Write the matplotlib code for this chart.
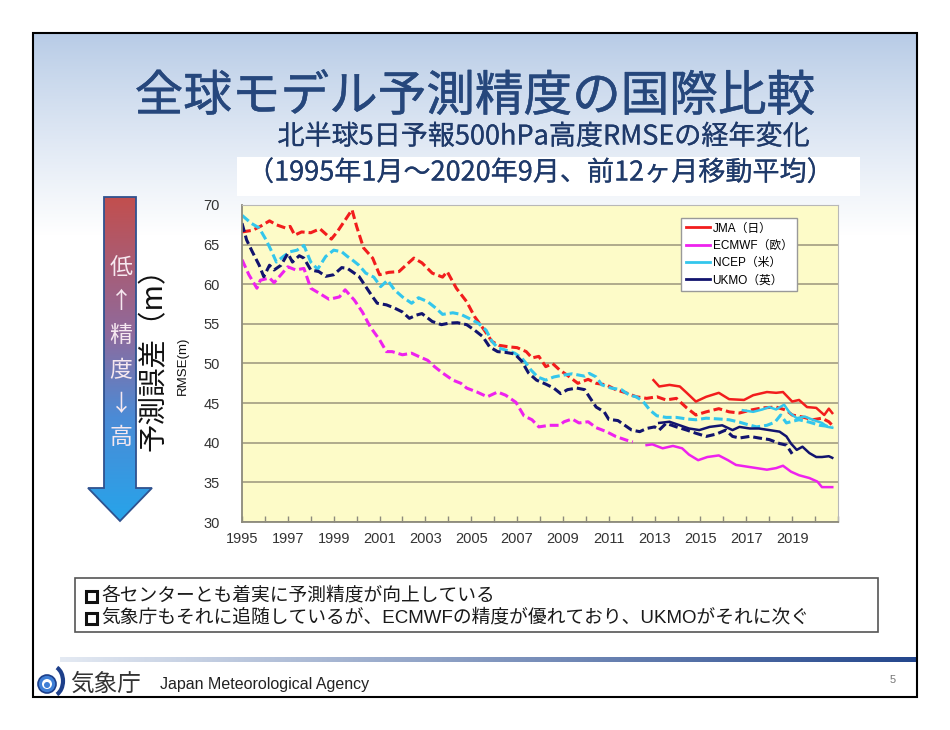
import numpy as np
import matplotlib
matplotlib.use('Agg')
import matplotlib.pyplot as plt
import matplotlib.patheffects as pe
from matplotlib.patches import Rectangle, Polygon, Circle, Arc
from matplotlib.lines import Line2D
from matplotlib.colors import LinearSegmentedColormap, to_rgb

plt.rcParams['font.family'] = ['Noto Sans CJK JP', 'DejaVu Sans']

# ---------------- data ----------------
jma_old_years = [1995.0, 1995.45, 1995.8, 1996.2, 1996.5, 1996.9, 1997.1, 1997.3, 1997.6, 1998.0,
                 1998.4, 1998.9, 1999.15, 1999.5, 1999.8, 2000.0, 2000.3, 2000.7, 2001.0, 2001.4,
                 2001.85, 2002.15, 2002.5, 2002.85, 2003.3, 2003.75, 2003.95, 2004.35, 2004.8, 2005.15,
                 2005.5, 2005.9, 2006.2, 2006.65, 2007.0, 2007.4, 2007.65, 2007.95, 2008.25, 2008.55,
                 2008.85, 2009.2, 2009.65, 2010.1, 2010.45, 2010.9, 2011.3, 2011.75, 2012.2, 2012.65,
                 2013.1, 2013.5, 2013.95, 2014.4, 2014.8, 2015.25, 2015.8, 2016.25, 2016.7, 2017.15,
                 2017.7, 2018.3, 2018.75, 2019.0, 2019.45, 2019.9, 2020.3, 2020.6, 2020.75]
jma_old_vals = [66.6, 66.8, 67.3, 68.0, 67.5, 67.1, 67.3, 66.2, 66.6, 66.5,
                67.0, 65.7, 66.6, 68.1, 69.4, 67.3, 64.6, 63.3, 61.2, 61.5,
                61.6, 62.4, 63.3, 62.7, 61.4, 60.9, 61.6, 59.5, 57.8, 55.9,
                54.5, 52.8, 52.3, 52.1, 52.0, 51.5, 50.7, 50.9, 49.6, 50.0,
                49.2, 48.5, 47.5, 48.0, 47.5, 47.3, 46.7, 46.3, 45.8, 45.6,
                45.8, 45.4, 45.6, 44.4, 43.5, 43.9, 44.3, 43.9, 43.75, 44.1,
                44.4, 44.5, 44.1, 43.5, 43.25, 42.9, 43.1, 42.65, 42.2]

jma_new_years = [2012.95, 2013.2, 2013.65, 2014.1, 2014.4, 2014.8, 2015.25, 2015.8, 2016.25, 2016.9,
                 2017.3, 2017.9, 2018.3, 2018.6, 2019.0, 2019.3, 2019.65, 2020.05, 2020.4, 2020.6, 2020.75]
jma_new_vals = [47.9, 47.1, 47.3, 47.1, 46.3, 45.2, 45.8, 46.3, 45.5, 45.4,
                46.0, 46.4, 46.3, 46.4, 45.2, 45.4, 44.5, 44.4, 43.5, 44.3, 43.75]

ecmwf_old_years = [1995.0, 1995.3, 1995.65, 1995.8, 1996.2, 1996.4, 1996.7, 1997.0, 1997.35, 1997.7,
                   1998.0, 1998.35, 1998.8, 1999.25, 1999.5, 1999.9, 2000.25, 2000.6, 2001.0, 2001.3,
                   2001.55, 2002.0, 2002.4, 2002.7, 2003.1, 2003.4, 2003.75, 2004.2, 2004.55, 2004.8,
                   2005.25, 2005.7, 2006.15, 2006.5, 2006.95, 2007.3, 2007.65, 2007.95, 2008.4, 2008.85,
                   2009.05, 2009.4, 2009.7, 2010.1, 2010.45, 2010.9, 2011.3, 2011.75, 2012.05]
ecmwf_old_vals = [63.1, 61.2, 59.5, 60.5, 60.8, 60.2, 61.2, 62.2, 61.8, 62.0,
                  59.5, 58.9, 58.1, 58.4, 59.3, 58.0, 56.5, 54.6, 53.0, 51.5,
                  51.5, 51.1, 51.3, 50.9, 50.4, 49.6, 48.8, 47.9, 47.5, 46.9,
                  46.4, 45.8, 46.4, 46.0, 45.1, 43.4, 42.9, 42.0, 42.2, 42.2,
                  42.65, 43.0, 42.5, 42.65, 41.9, 41.4, 40.8, 40.35, 40.1]

ecmwf_new_years = [2012.65, 2012.9, 2013.35, 2013.8, 2014.2, 2014.5, 2014.9, 2015.3, 2015.8, 2016.2,
                   2016.55, 2017.0, 2017.45, 2017.9, 2018.3, 2018.6, 2018.95, 2019.3, 2019.75, 2020.1,
                   2020.3, 2020.75]
ecmwf_new_vals = [39.7, 39.8, 39.3, 39.6, 39.3, 38.5, 37.8, 38.2, 38.4, 37.8,
                  37.2, 37.0, 36.8, 36.6, 36.8, 37.1, 36.35, 35.9, 35.55, 35.1,
                  34.4, 34.4]

ncep_old_years = [1995.0, 1995.4, 1995.75, 1996.05, 1996.3, 1996.5, 1996.8, 1997.1, 1997.4, 1997.7,
                  1998.0, 1998.3, 1998.65, 1999.0, 1999.35, 1999.6, 1999.8, 2000.1, 2000.4, 2000.75,
                  2001.05, 2001.35, 2001.65, 2002.0, 2002.4, 2002.7, 2003.1, 2003.45, 2003.75, 2004.2,
                  2004.55, 2004.9, 2005.3, 2005.65, 2005.9, 2006.15, 2006.5, 2006.9, 2007.2, 2007.4,
                  2007.6, 2007.9, 2008.25, 2008.6, 2008.95, 2009.4, 2009.95, 2010.15, 2010.45, 2010.7,
                  2011.1, 2011.55, 2011.9, 2012.2, 2012.5, 2012.8, 2013.1, 2013.5, 2013.95, 2014.4,
                  2014.8, 2015.25, 2015.8, 2016.25, 2016.7, 2017.05, 2017.45, 2017.9, 2018.25, 2018.5,
                  2018.75, 2019.0, 2019.3, 2019.75, 2020.2, 2020.75]
ncep_old_vals = [68.7, 67.7, 67.1, 65.6, 64.1, 62.8, 63.5, 64.1, 64.3, 64.9,
                 62.8, 61.9, 63.5, 64.3, 64.1, 63.5, 63.1, 62.4, 61.4, 60.9,
                 59.7, 60.5, 59.3, 58.4, 57.6, 58.3, 57.8, 57.0, 56.2, 56.4,
                 56.2, 55.7, 55.1, 54.2, 52.8, 52.0, 51.7, 51.3, 50.7, 50.0,
                 49.2, 48.3, 47.9, 48.3, 48.5, 48.7, 48.4, 48.75, 48.3, 47.3,
                 46.9, 46.7, 46.0, 45.8, 45.2, 44.1, 43.4, 43.2, 43.2, 43.0,
                 42.9, 43.1, 43.0, 42.9, 42.6, 42.3, 42.0, 42.2, 42.6, 43.5,
                 42.5, 42.7, 42.9, 42.6, 42.2, 42.0]

ncep_new_years = [2016.85, 2017.3, 2017.7, 2018.0, 2018.3, 2018.65, 2018.9, 2019.2, 2019.55, 2019.9,
                  2020.3, 2020.55, 2020.75]
ncep_new_vals = [44.1, 43.9, 44.2, 44.5, 44.2, 44.8, 43.75, 43.1, 43.3, 42.9,
                 42.5, 42.0, 41.9]

ukmo_old_years = [1995.0, 1995.2, 1995.45, 1995.75, 1995.95, 1996.2, 1996.4, 1996.7, 1997.0, 1997.2,
                  1997.5, 1997.7, 1998.0, 1998.35, 1998.65, 1999.0, 1999.35, 1999.6, 1999.8, 2000.1,
                  2000.4, 2000.7, 2000.9, 2001.3, 2001.65, 2002.0, 2002.3, 2002.6, 2002.85, 2003.3,
                  2003.7, 2004.05, 2004.4, 2004.8, 2005.15, 2005.5, 2005.8, 2006.15, 2006.5, 2006.9,
                  2007.2, 2007.5, 2007.85, 2008.25, 2008.6, 2008.9, 2009.2, 2009.6, 2009.95, 2010.15,
                  2010.45, 2010.8, 2011.0, 2011.4, 2011.7, 2012.0, 2012.35, 2012.65, 2013.0, 2013.2,
                  2013.5, 2013.95, 2014.4, 2014.8, 2015.25, 2015.7, 2016.1, 2016.4, 2016.7, 2017.15,
                  2017.55, 2018.0, 2018.45, 2018.75, 2019.0]
ukmo_old_vals = [67.7, 65.6, 64.1, 62.4, 60.95, 62.4, 61.8, 62.4, 63.9, 62.8,
                 63.6, 63.3, 61.8, 61.6, 61.0, 61.2, 62.1, 62.0, 61.6, 61.0,
                 59.7, 58.4, 57.6, 57.4, 57.0, 56.5, 55.7, 56.1, 56.3, 55.3,
                 54.9, 55.1, 55.15, 54.9, 54.2, 53.4, 52.1, 51.5, 51.4, 51.2,
                 50.3, 48.8, 47.9, 47.4, 46.9, 46.2, 46.7, 46.9, 46.7, 45.8,
                 44.5, 43.9, 42.95, 42.8, 42.2, 41.6, 41.4, 41.8, 42.0, 41.6,
                 42.45, 42.0, 41.6, 41.2, 40.8, 41.1, 41.6, 40.8, 40.6, 40.8,
                 40.6, 40.4, 39.9, 39.7, 38.6]

ukmo_new_years = [2013.2, 2013.65, 2014.1, 2014.5, 2014.95, 2015.4, 2015.95, 2016.4, 2016.7, 2017.15,
                  2017.55, 2018.0, 2018.45, 2018.75, 2018.95, 2019.2, 2019.45, 2019.75, 2020.05, 2020.3,
                  2020.6, 2020.75]
ukmo_new_vals = [42.5, 42.65, 42.2, 41.8, 41.6, 42.0, 42.2, 41.6, 42.0, 41.8,
                 41.8, 41.6, 41.4, 40.8, 39.9, 39.1, 39.5, 38.7, 38.2, 38.2,
                 38.3, 38.1]

series_labels = ['JMA（日）', 'ECMWF（欧）', 'NCEP（米）', 'UKMO（英）']
series_colors = ['#f21d1d', '#ee22ee', '#33c6ec', '#12146e']
x_tick_years = list(range(1995, 2021, 2))
y_ticks = [30, 35, 40, 45, 50, 55, 60, 65, 70]

LATIN_CJK = ['Liberation Sans', 'Noto Sans CJK JP', 'DejaVu Sans']

# ---------------- figure / background ----------------
W, H = 950, 730
fig = plt.figure(figsize=(9.5, 7.3), dpi=100)
fig.patch.set_facecolor('white')
bg = fig.add_axes([0, 0, 1, 1])
bg.axis('off')

ys = np.arange(33, 698)
t = np.clip((ys - 33) / (235 - 33), 0, 1)
t = t ** 0.9
top = np.array(to_rgb('#b7cbe6'))
grad = top[None, :] * (1 - t[:, None]) + np.ones(3)[None, :] * t[:, None]
bg.imshow(grad[:, None, :], extent=(33, 917, 697, 33), aspect='auto', zorder=0)
bg.add_patch(Rectangle((237, 157), 623, 39, facecolor='white', edgecolor='none', zorder=1))
bg.add_patch(Rectangle((33, 33), 884, 664, fill=False, edgecolor='black', lw=1.5, zorder=5))
bg.set_xlim(0, W)
bg.set_ylim(H, 0)

title_color = '#26477c'
sub_color = '#1f3a6a'
bg.text(475, 97, '全球モデル予測精度の国際比較', fontsize=35, color=title_color,
        ha='center', va='center', zorder=3,
        path_effects=[pe.withStroke(linewidth=0.35, foreground=title_color)])
bg.text(544, 137, '北半球5日予報500hPa高度RMSEの経年変化', fontsize=19.5, color=sub_color,
        ha='center', va='center', zorder=3,
        path_effects=[pe.withStroke(linewidth=0.15, foreground=sub_color)])
bg.text(541, 173, '（1995年1月～2020年9月、前12ヶ月移動平均）', fontsize=19.5, color=sub_color,
        ha='center', va='center', zorder=3,
        path_effects=[pe.withStroke(linewidth=0.15, foreground=sub_color)])

# gradient arrow
arrow_pts = [(104, 197), (136, 197), (136, 488), (152, 488), (120, 521), (88, 488), (104, 488)]
arrow = Polygon(arrow_pts, closed=True, facecolor='none', edgecolor='#2f528f', lw=1.3, zorder=4)
bg.add_patch(arrow)
acmap = LinearSegmentedColormap.from_list('arr', [(0, '#c24f4e'), (0.42, '#8f6a9c'),
                                                  (0.68, '#4b8bd6'), (1, '#27a4ea')])
ag = np.linspace(0, 1, 256)[:, None]
im = bg.imshow(ag, cmap=acmap, extent=(88, 152, 521, 197), aspect='auto', zorder=3)
clip = Polygon(arrow_pts, closed=True, transform=bg.transData)
im.set_clip_path(clip)
bg.set_xlim(0, W)
bg.set_ylim(H, 0)
for ch, yy in zip(['低', '↑', '精', '度', '↓', '高'], [268, 301, 335, 371, 405, 438]):
    bg.text(121, yy, ch, fontsize=16.5, color='#f6e8f0', ha='center', va='center', zorder=5)

bg.text(154, 352, '予測誤差（m）', fontsize=20.5, rotation=90, ha='center', va='center',
        color='#111111', zorder=5)
bg.text(183, 366, 'RMSE(m)', fontsize=9.5, rotation=90, ha='center', va='center',
        family=['Liberation Sans', 'DejaVu Sans'], color='#111111', zorder=5)

# bottom message box
bg.add_patch(Rectangle((75, 578), 803, 54, facecolor='white', edgecolor='#555555', lw=1.2, zorder=2))
msg1 = '各センターとも着実に予測精度が向上している'
msg2 = '気象庁もそれに追随しているが、ECMWFの精度が優れており、UKMOがそれに次ぐ'
for yy, msg in zip([596, 618], [msg1, msg2]):
    bg.add_patch(Rectangle((86, yy - 5.5), 11, 11, facecolor='none', edgecolor='#111111',
                           lw=2.2, zorder=3))
    bg.text(101, yy, msg, fontsize=13.5, ha='left', va='center', color='#1a1a1a',
            family=LATIN_CJK, zorder=3)

# footer line
fx = np.linspace(0, 1, 400)
fcol = np.array(to_rgb('#e4eaf3'))[None, :] * (1 - fx[:, None]) + np.array(to_rgb('#23468c'))[None, :] * fx[:, None]
bg.imshow(fcol[None, :, :], extent=(60, 917, 662, 657), aspect='auto', zorder=2)
bg.set_xlim(0, W)
bg.set_ylim(H, 0)

# logo
bg.add_patch(Circle((47, 684), 9, facecolor='#3f7fd6', edgecolor='#1d3f8a', lw=1.2, zorder=3))
bg.add_patch(Circle((47, 684), 5, facecolor='white', edgecolor='none', zorder=4))
bg.add_patch(Circle((47, 685), 3, facecolor='#3f7fd6', edgecolor='none', zorder=5))
bg.add_patch(Arc((52, 681), 22, 30, theta1=-70, theta2=70, color='#1d3f8a', lw=3, zorder=3))
bg.text(70, 684, '気象庁', fontsize=17, color='#333333', ha='left', va='center', zorder=3)
bg.text(160, 685, 'Japan Meteorological Agency', fontsize=11.5, color='#222222',
        family=['Liberation Sans Narrow', 'Liberation Sans', 'DejaVu Sans'],
        ha='left', va='center', zorder=3)
bg.text(893, 680, '5', fontsize=8, color='#777777', ha='center', va='center',
        family=['Liberation Sans', 'DejaVu Sans'], zorder=3)

# ---------------- chart ----------------
ax = fig.add_axes([242 / W, 1 - 522 / H, 596 / W, 317 / H])
ax.set_facecolor('#fdfbc8')
ax.set_xlim(1995, 2021)
ax.set_ylim(30, 70)
ax.set_yticks(y_ticks)
ax.set_xticks(x_tick_years)
ax.set_xticks(range(1995, 2022), minor=True)
ax.yaxis.grid(True, color='#a9a487', lw=1.3)
ax.set_axisbelow(True)
for s in ['top', 'right']:
    ax.spines[s].set_color('#b8b8b8')
for s in ['left', 'bottom']:
    ax.spines[s].set_color('#8c8a7c')
    ax.spines[s].set_linewidth(1.3)
ax.tick_params(axis='x', which='both', direction='in', length=4, color='#8c8a7c', width=1, pad=7)
ax.tick_params(axis='y', length=0, pad=16)
tick_font = dict(family=['Liberation Sans', 'DejaVu Sans'], size=10.5, color='#333333')
ax.set_xticklabels([str(v) for v in x_tick_years], **tick_font)
ax.set_yticklabels([str(v) for v in y_ticks], **tick_font)

dash = (0, (2.9, 1.3))
lw_d, lw_s = 2.2, 1.8
ax.plot(jma_old_years, jma_old_vals, color=series_colors[0], lw=lw_d, ls=dash)
ax.plot(ecmwf_old_years, ecmwf_old_vals, color=series_colors[1], lw=lw_d, ls=dash)
ax.plot(ncep_old_years, ncep_old_vals, color=series_colors[2], lw=lw_d, ls=dash)
ax.plot(ukmo_old_years, ukmo_old_vals, color=series_colors[3], lw=lw_d, ls=dash)
ax.plot(jma_new_years, jma_new_vals, color=series_colors[0], lw=lw_s)
ax.plot(ecmwf_new_years, ecmwf_new_vals, color=series_colors[1], lw=lw_s)
ax.plot(ncep_new_years, ncep_new_vals, color=series_colors[2], lw=lw_s)
ax.plot(ukmo_new_years, ukmo_new_vals, color=series_colors[3], lw=lw_s)

handles = [Line2D([0], [0], color=c, lw=2) for c in series_colors]
leg = ax.legend(handles, series_labels, loc='upper left', bbox_to_anchor=(0.737, 0.96),
                borderaxespad=0, frameon=True, fancybox=False,
                prop=dict(family=LATIN_CJK, size=8.5),
                handlelength=2.0, handletextpad=0.25, labelspacing=0.45, borderpad=0.4,
                edgecolor='#999999', framealpha=1)
leg.get_frame().set_linewidth(1.0)

fig.savefig('out.png', dpi=100)
